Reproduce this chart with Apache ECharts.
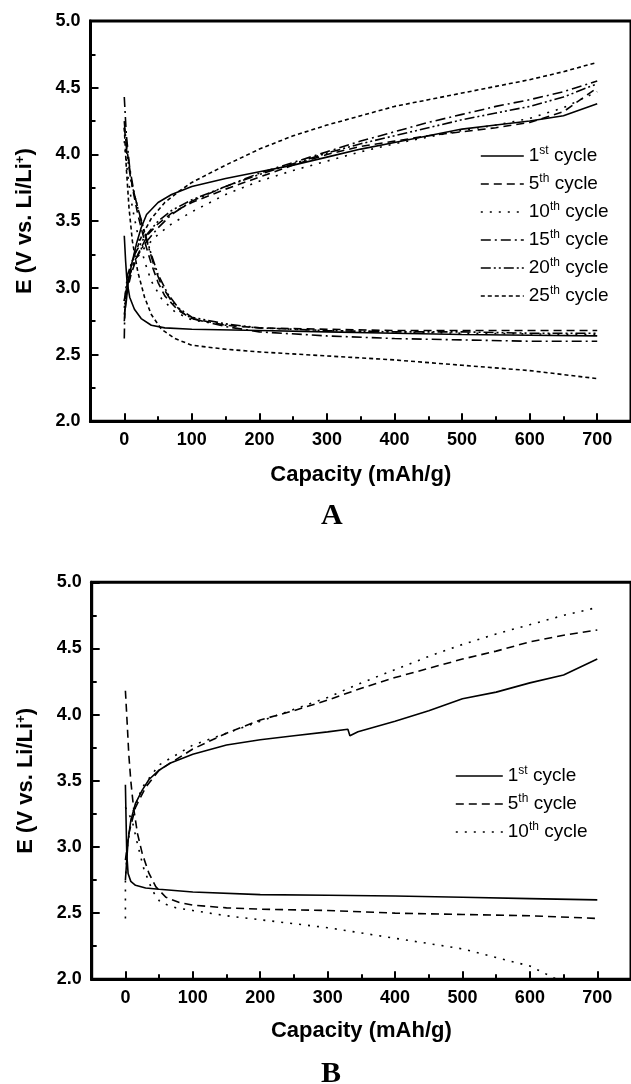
<!DOCTYPE html>
<html>
<head>
<meta charset="utf-8">
<script src="https://cdn.jsdelivr.net/npm/echarts@6/dist/echarts.min.js"></script>
<style>
  html, body { margin: 0; padding: 0; background: #fff; }
  #panelA { width: 631px; height: 540px; }
  #panelB { width: 631px; height: 544px; }
</style>
</head>
<body>
<div id="panelA"></div>
<div id="panelB"></div>
<script>
// tick labels
var xTicks = [0, 100, 200, 300, 400, 500, 600, 700];
var xMinorTicks = [50, 150, 250, 350, 450, 550, 650, 750];
var cycleNamesA = ['1st cycle', '5th cycle', '10th cycle', '15th cycle', '20th cycle', '25th cycle'];
var cycleNamesB = ['1st cycle', '5th cycle', '10th cycle'];

// panel A - [capacity mAh/g, E V]
var a1Charge = [[0,2.8],[3,2.9],[6,3.05],[11,3.18],[18,3.33],[25,3.45],[33,3.55],[50,3.64],[70,3.7],[100,3.76],[150,3.82],[200,3.87],[250,3.92],[300,3.98],[350,4.04],[400,4.09],[450,4.14],[500,4.19],[550,4.22],[600,4.25],[650,4.29],[700,4.38]];
var a1Discharge = [[0,3.39],[2,3.2],[4,3.05],[8,2.93],[15,2.84],[25,2.77],[40,2.72],[60,2.7],[100,2.69],[200,2.68],[300,2.67],[400,2.66],[500,2.65],[600,2.645],[700,2.64]];
var a5Charge = [[0,2.75],[3,2.95],[10,3.1],[20,3.25],[35,3.4],[50,3.48],[70,3.56],[100,3.64],[150,3.74],[200,3.83],[250,3.92],[300,4.0],[350,4.06],[400,4.1],[450,4.14],[500,4.17],[550,4.2],[600,4.24],[650,4.32],[700,4.5]];
var a5Discharge = [[0,4.2],[5,4.0],[12,3.75],[20,3.55],[30,3.35],[40,3.18],[50,3.04],[60,2.94],[80,2.83],[100,2.77],[150,2.72],[200,2.7],[300,2.69],[400,2.68],[500,2.68],[600,2.68],[700,2.68]];
var a10Charge = [[0,2.85],[5,3.05],[15,3.2],[30,3.3],[50,3.4],[70,3.48],[100,3.57],[150,3.7],[200,3.8],[250,3.88],[300,3.95],[350,4.02],[400,4.08],[450,4.13],[500,4.18],[550,4.22],[600,4.27],[650,4.35],[700,4.47]];
var a10Discharge = [[0,4.1],[5,3.85],[12,3.6],[20,3.4],[30,3.2],[40,3.05],[55,2.92],[75,2.82],[100,2.76],[150,2.72],[200,2.7],[300,2.68],[400,2.67],[500,2.66],[600,2.655],[700,2.65]];
var a15Charge = [[0,2.62],[1,2.9],[5,3.05],[15,3.2],[30,3.33],[50,3.45],[70,3.55],[100,3.65],[150,3.76],[200,3.86],[250,3.94],[300,4.02],[350,4.1],[400,4.17],[450,4.24],[500,4.3],[550,4.36],[600,4.41],[650,4.47],[700,4.55]];
var a15Discharge = [[0,4.43],[3,4.15],[8,3.9],[15,3.7],[25,3.5],[35,3.32],[45,3.15],[55,3.02],[70,2.9],[85,2.82],[100,2.77],[150,2.71],[200,2.67],[300,2.64],[400,2.62],[500,2.61],[600,2.6],[700,2.6]];
var a20Charge = [[0,2.9],[5,3.1],[15,3.25],[30,3.38],[50,3.5],[70,3.58],[100,3.66],[150,3.76],[200,3.85],[250,3.93],[300,4.01],[350,4.08],[400,4.14],[450,4.2],[500,4.26],[550,4.31],[600,4.36],[650,4.43],[700,4.53]];
var a20Discharge = [[0,4.25],[4,4.0],[10,3.8],[20,3.6],[30,3.42],[40,3.25],[50,3.1],[65,2.95],[80,2.85],[100,2.78],[150,2.73],[200,2.7],[300,2.68],[400,2.67],[500,2.67],[600,2.66],[700,2.66]];
var a25Charge = [[0,2.9],[5,3.05],[12,3.2],[25,3.38],[40,3.52],[60,3.64],[80,3.72],[100,3.79],[150,3.92],[200,4.04],[250,4.14],[300,4.22],[350,4.29],[400,4.36],[450,4.41],[500,4.46],[550,4.51],[600,4.56],[650,4.62],[700,4.69]];
var a25Discharge = [[0,4.2],[3,3.9],[7,3.6],[12,3.35],[20,3.12],[30,2.93],[40,2.8],[55,2.69],[75,2.62],[100,2.57],[150,2.54],[200,2.52],[300,2.49],[400,2.46],[500,2.42],[600,2.38],[700,2.32]];

// panel B
var b1Charge = [[0,2.75],[2,2.9],[4,3.05],[8,3.2],[15,3.33],[25,3.43],[35,3.51],[50,3.58],[65,3.63],[100,3.7],[150,3.77],[200,3.81],[250,3.84],[300,3.87],[330,3.89],[333,3.84],[345,3.87],[400,3.95],[450,4.03],[500,4.12],[550,4.17],[600,4.24],[650,4.3],[700,4.42]];
var b1Discharge = [[0,3.47],[1,3.2],[2,2.95],[4,2.8],[8,2.74],[15,2.71],[30,2.69],[50,2.68],[100,2.66],[200,2.64],[300,2.635],[400,2.63],[500,2.62],[600,2.61],[700,2.6]];
var b5Charge = [[0,2.9],[5,3.1],[15,3.3],[30,3.45],[50,3.58],[100,3.74],[150,3.86],[200,3.96],[250,4.03],[300,4.11],[350,4.2],[400,4.28],[450,4.35],[500,4.42],[550,4.48],[600,4.55],[650,4.6],[700,4.64]];
var b5Discharge = [[0,4.18],[3,3.9],[5,3.7],[8,3.5],[12,3.3],[18,3.1],[25,2.95],[35,2.8],[45,2.7],[60,2.62],[80,2.58],[100,2.56],[150,2.54],[200,2.53],[300,2.52],[400,2.5],[500,2.49],[600,2.48],[700,2.46]];
var b10Charge = [[0,2.46],[0,2.75],[3,3.0],[10,3.25],[25,3.45],[50,3.62],[100,3.77],[150,3.86],[200,3.95],[250,4.04],[300,4.13],[350,4.24],[400,4.34],[450,4.44],[500,4.53],[550,4.61],[600,4.68],[650,4.75],[700,4.81]];
var b10Discharge = [[0,3.3],[5,3.25],[10,3.2],[18,3.02],[27,2.84],[40,2.67],[52,2.58],[75,2.54],[100,2.52],[150,2.48],[200,2.45],[300,2.39],[400,2.31],[500,2.23],[600,2.1],[640,2.0],[700,1.88]];

var dashTypes = {
    '1st cycle': 'solid',
    '5th cycle': [8, 5],
    '10th cycle': [2, 7],
    '15th cycle': [10, 4, 2, 4],
    '20th cycle': [10, 3, 2, 3, 2, 3],
    '25th cycle': [4, 3]
};

var FONT = '"Liberation Sans", Arial, sans-serif';

function curve(name, data) {
    return {
        name: name,
        type: 'line',
        data: data,
        symbol: 'none',
        smooth: false,
        clip: true,
        lineStyle: { color: '#000', width: 1.6, type: dashTypes[name] },
        itemStyle: { color: '#000' }
    };
}

function makeOption(cfg) {
    return {
        animation: false,
        backgroundColor: '#fff',
        title: {
            text: cfg.label,
            left: 316,
            top: cfg.labelTop,
            textStyle: { fontFamily: '"Liberation Serif", "Times New Roman", serif', fontWeight: 'bold', fontSize: 30, color: '#000' }
        },
        legend: {
            orient: 'vertical',
            left: cfg.legendLeft,
            top: cfg.legendTop,
            padding: 0,
            itemWidth: cfg.legendLine,
            itemHeight: 20,
            itemGap: 6,
            data: cfg.names,
            itemStyle: { opacity: 0 },
            lineStyle: { width: 1.6 },
            formatter: function (name) {
                return name.replace(/^(\d+)(st|th)/, '$1{sup|$2}');
            },
            textStyle: {
                fontFamily: FONT, fontSize: 19, color: '#000', lineHeight: 22,
                rich: { sup: { fontFamily: FONT, fontSize: 12, lineHeight: 12, padding: [0, 0, 10, 0], color: '#000' } }
            }
        },
        grid: {
            left: cfg.gridLeft, top: cfg.gridTop, height: cfg.gridHeight, right: cfg.gridRight,
            show: true, borderColor: '#000', borderWidth: 3, backgroundColor: 'transparent'
        },
        xAxis: [{
            type: 'value', min: -50, max: 750,
            name: 'Capacity (mAh/g)', nameLocation: 'middle', nameGap: cfg.xNameGap,
            nameTextStyle: { fontFamily: FONT, fontWeight: 'bold', fontSize: 22, color: '#000' },
            axisLine: { onZero: false, lineStyle: { color: '#000', width: 3 } },
            axisTick: { inside: true, length: 8, customValues: xTicks, lineStyle: { color: '#000', width: 2 } },
            axisLabel: { customValues: xTicks, margin: 10, fontFamily: FONT, fontWeight: 'bold', fontSize: 18, color: '#000' },
            splitLine: { show: false }
        }, {
            type: 'value', min: -50, max: 750, position: 'bottom',
            axisLine: { show: false, onZero: false },
            axisTick: { inside: true, length: 5, customValues: xMinorTicks, lineStyle: { color: '#000', width: 2 } },
            axisLabel: { show: false },
            splitLine: { show: false }
        }],
        yAxis: {
            type: 'value', min: 2, max: 5, interval: 0.5,
            name: 'E (V vs. Li/Li{sup|+})', nameLocation: 'middle', nameGap: 54,
            nameTextStyle: {
                fontFamily: FONT, fontWeight: 'bold', fontSize: 22, color: '#000',
                rich: { sup: { fontFamily: FONT, fontWeight: 'bold', fontSize: 13, padding: [0, 0, 10, 0], color: '#000' } }
            },
            axisLine: { onZero: false, lineStyle: { color: '#000', width: 3 } },
            axisTick: { inside: true, length: 8, lineStyle: { color: '#000', width: 2 } },
            minorTick: { show: true, splitNumber: 2, length: 5, lineStyle: { color: '#000', width: 2 } },
            axisLabel: {
                margin: 10, fontFamily: FONT, fontWeight: 'bold', fontSize: 18, color: '#000',
                formatter: function (v) { return v.toFixed(1); }
            },
            splitLine: { show: false }
        },
        series: cfg.series
    };
}

var chartA = echarts.init(document.getElementById('panelA'));
chartA.setOption(makeOption({
    label: 'A', labelTop: 496,
    names: cycleNamesA, legendLeft: 480, legendTop: 145, legendLine: 43,
    gridLeft: 90.5, gridTop: 21, gridHeight: 400.3, gridRight: -6.3, xNameGap: 43,
    series: [
        curve('1st cycle', a1Charge), curve('1st cycle', a1Discharge),
        curve('5th cycle', a5Charge), curve('5th cycle', a5Discharge),
        curve('10th cycle', a10Charge), curve('10th cycle', a10Discharge),
        curve('15th cycle', a15Charge), curve('15th cycle', a15Discharge),
        curve('20th cycle', a20Charge), curve('20th cycle', a20Discharge),
        curve('25th cycle', a25Charge), curve('25th cycle', a25Discharge)
    ]
}));

var chartB = echarts.init(document.getElementById('panelB'));
chartB.setOption(makeOption({
    label: 'B', labelTop: 514,
    names: cycleNamesB, legendLeft: 455, legendTop: 225, legendLine: 47,
    gridLeft: 91.7, gridTop: 42.3, gridHeight: 397, gridRight: -7, xNameGap: 41,
    series: [
        curve('1st cycle', b1Charge), curve('1st cycle', b1Discharge),
        curve('5th cycle', b5Charge), curve('5th cycle', b5Discharge),
        curve('10th cycle', b10Charge), curve('10th cycle', b10Discharge)
    ]
}));
</script>
</body>
</html>
